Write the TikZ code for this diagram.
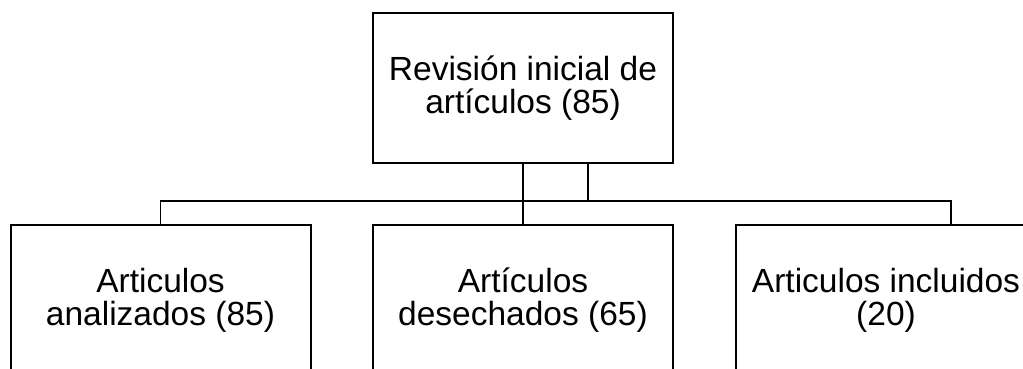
\documentclass[tikz,border=0pt]{standalone}
\usepackage{fontspec}
\setmainfont{Liberation Sans}
\usepackage{tikz}

\begin{document}
\begin{tikzpicture}[x=1pt, y=-1pt,
	caja/.style={draw, line width=2pt, minimum width=300pt, minimum height=150pt,
		align=center, inner sep=0pt, font=\fontsize{33.5}{33}\selectfont},
	linea/.style={line width=1.5pt}]
	\useasboundingbox (0,0) rectangle (1023,369);
	\clip (0,0) rectangle (1023,369);

	\node[caja] (rev) at (523,88) {Revisión inicial de\\artículos (85)};
	\node[caja] (analiz) at (160.5,300) {Articulos\\analizados (85)};
	\node[caja] (desech) at (523,300) {Artículos\\desechados (65)};
	\node[caja] (incl) at (886,300) {Articulos incluidos\\(20)};

	\coordinate (revR) at ([xshift=65pt]rev.south);
	\coordinate (inclL) at ([xshift=65pt]incl.north);

	\draw[linea] (rev.south) -- (desech.north);
	\draw[linea] (revR) -- ++(0,37) -| (analiz.north);
	\draw[linea] (rev.south) -- ++(0,37) -| (inclL);
\end{tikzpicture}
\end{document}
